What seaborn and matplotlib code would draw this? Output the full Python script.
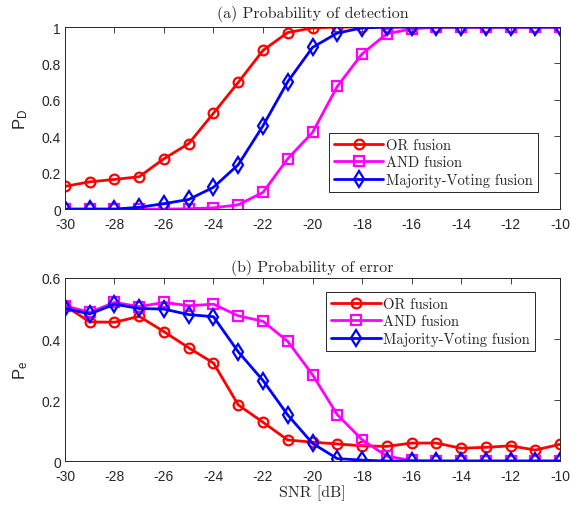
import numpy as np
import pandas as pd
import matplotlib
matplotlib.use("Agg")
import matplotlib.pyplot as plt
import seaborn as sns
from matplotlib.ticker import FuncFormatter

snr = list(range(-30, -9))

pd_or = [0.125, 0.15, 0.163, 0.178, 0.277, 0.36, 0.527, 0.696, 0.872, 0.97, 0.995, 1.0,
         1.0, 1.0, 1.0, 1.0, 1.0, 1.0, 1.0, 1.0, 1.0]
pd_and = [0.0, 0.0, 0.0, 0.0, 0.0, 0.002, 0.007, 0.024, 0.092, 0.277, 0.421, 0.674, 0.852,
          0.963, 0.99, 1.0, 1.0, 1.0, 1.0, 1.0, 1.0]
pd_mv = [0.0, 0.0, 0.0, 0.01, 0.03, 0.053, 0.12, 0.244, 0.458, 0.70, 0.888, 0.967, 0.995,
         1.0, 1.0, 1.0, 1.0, 1.0, 1.0, 1.0, 1.0]

pe_or = [0.509, 0.456, 0.455, 0.474, 0.424, 0.371, 0.321, 0.184, 0.127, 0.069, 0.062, 0.056,
         0.05, 0.048, 0.059, 0.059, 0.042, 0.045, 0.05, 0.036, 0.055]
pe_and = [0.509, 0.487, 0.52, 0.506, 0.52, 0.509, 0.514, 0.476, 0.458, 0.392, 0.283, 0.152,
          0.07, 0.016, 0.002, 0.0, 0.0, 0.0, 0.0, 0.0, 0.0]
pe_mv = [0.50, 0.482, 0.514, 0.50, 0.498, 0.48, 0.473, 0.358, 0.264, 0.151, 0.058, 0.008,
         0.003, 0.0, 0.0, 0.0, 0.0, 0.0, 0.0, 0.0, 0.0]

methods = ["OR fusion", "AND fusion", "Majority-Voting fusion"]
colors = ["#ff0000", "#ff00ff", "#0000ff"]
markers = ["o", "s", "d"]

sns.set_theme(style="white")
plt.rcParams["font.family"] = ["Liberation Sans", "DejaVu Sans"]
plt.rcParams["mathtext.fontset"] = "custom"
plt.rcParams["mathtext.rm"] = "Liberation Sans"
plt.rcParams["mathtext.it"] = "Liberation Sans"

serif = "DejaVu Serif"
try:
    from matplotlib import font_manager
    font_manager.findfont("cmr10", fallback_to_default=False)
    serif = "cmr10"
except Exception:
    serif = "DejaVu Serif"

fig = plt.figure(figsize=(5.71, 5.10), dpi=100)
ax1 = fig.add_axes([0.1138, 0.588, 0.867, 0.357])
ax2 = fig.add_axes([0.1138, 0.094, 0.867, 0.359])

def draw(ax, series, ylim, yticks, ylabel, title, legend_anchor, tpad):
    for name, vals, c, m in zip(methods, series, colors, markers):
        df = pd.DataFrame({"SNR": snr, "val": vals})
        sns.lineplot(data=df, x="SNR", y="val", ax=ax, color=c, marker=m,
                     markersize=7 if m != "d" else 8, markerfacecolor="none",
                     markeredgecolor=c, markeredgewidth=1.6, linewidth=2.0,
                     label=name)
    ax.set_xlim(-30, -10)
    ax.set_ylim(*ylim)
    ax.set_xticks(list(range(-30, -9, 2)))
    ax.set_yticks(yticks)
    fmt = FuncFormatter(lambda v, p: "%g" % round(v, 3))
    ax.xaxis.set_major_formatter(fmt)
    ax.yaxis.set_major_formatter(fmt)
    ax.tick_params(direction="in", top=True, right=True, length=4, width=0.6,
                   labelsize=10, colors="#262626")
    ax.tick_params(axis="x", pad=6)
    ax.tick_params(axis="y", pad=3)
    for s in ax.spines.values():
        s.set_color("#262626")
        s.set_linewidth(0.7)
    ax.set_ylabel(ylabel, fontsize=12, color="#262626", labelpad=8)
    ax.set_xlabel("")
    ax.set_title(title, fontsize=11.5, family=serif, pad=tpad)
    leg = ax.legend(loc="upper right", bbox_to_anchor=legend_anchor, frameon=True,
                    fancybox=False, edgecolor="#262626", framealpha=1,
                    prop={"family": serif, "size": 10.5}, handlelength=3.4,
                    borderpad=0.35, labelspacing=0.25, handletextpad=0.2,
                    borderaxespad=0)
    leg.get_frame().set_linewidth(0.7)

draw(ax1, [pd_or, pd_and, pd_mv], (0, 1), [0, 0.2, 0.4, 0.6, 0.8, 1.0],
     r"$\mathregular{P_D}$", "(a) Probability of detection", (0.956, 0.418), 7)
draw(ax2, [pe_or, pe_and, pe_mv], (0, 0.6), [0, 0.2, 0.4, 0.6],
     r"$\mathregular{P_e}$", "(b) Probability of error", (0.95, 0.923), 5)
ax2.set_xlabel("SNR [dB]", fontsize=11.5, family=serif, color="#262626", labelpad=1)

fig.savefig("out.png", dpi=100)
